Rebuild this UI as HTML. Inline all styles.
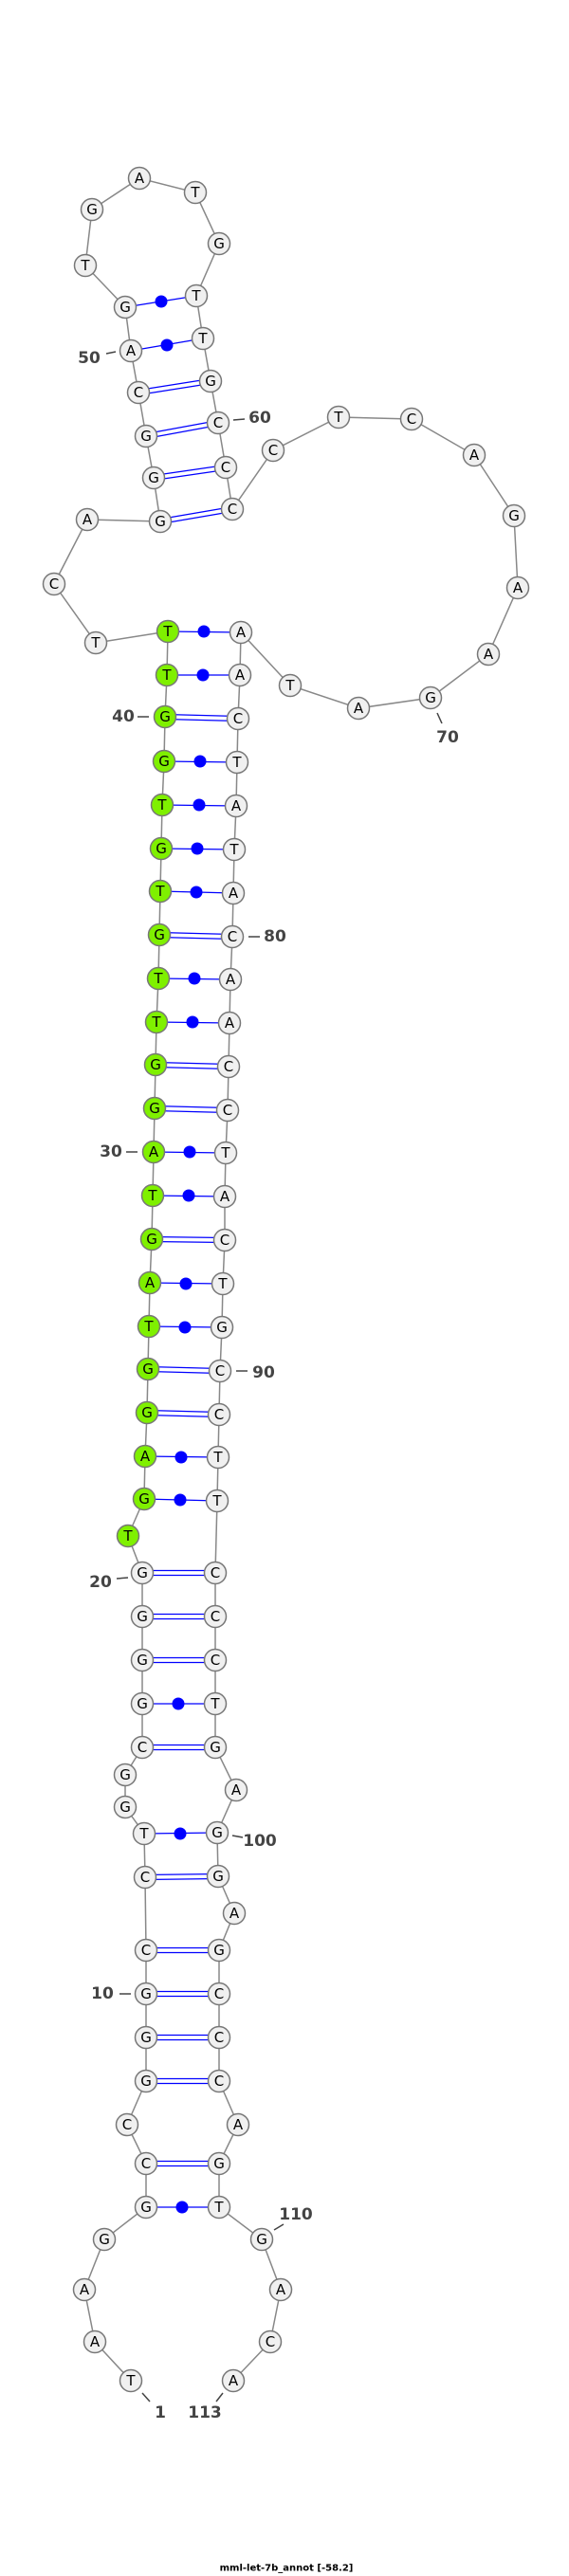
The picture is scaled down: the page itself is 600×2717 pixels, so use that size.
<!DOCTYPE html>
<html><head><meta charset="utf-8"><style>
html,body{margin:0;padding:0;background:#fff;}
svg{display:block;}
.n circle{fill:#f0f0f0;stroke:#777;stroke-width:1.5;}
.n circle.g{fill:#7ff000;}
.n text{font-family:"DejaVu Sans","Liberation Sans",sans-serif;font-size:15px;fill:#000;text-anchor:middle;dominant-baseline:central;}
.lb{font-family:"DejaVu Sans","Liberation Sans",sans-serif;font-size:17px;font-weight:bold;fill:#444;text-anchor:middle;dominant-baseline:central;}
.tk{stroke:#444;stroke-width:1.5;}
.p{stroke:#0000ff;stroke-width:1.3;fill:none;}
</style></head><body>
<svg width="600" height="2717" viewBox="0 0 600 2717" xmlns="http://www.w3.org/2000/svg">
<polyline fill="none" stroke="#888" stroke-width="1.5" points="138,2511 100,2470 89,2415 110,2362 154,2328 154,2282 134,2241 154,2195 154,2149 154,2103 154,2057 153,1980 152,1934 132,1906 132,1872 150,1843 150,1797 150,1751 150,1705 150,1659 135,1620 152,1581 153,1536 155,1490 156,1444 157,1399 158,1353 160,1307 161,1261 162,1215 163,1169 164,1123 165,1078 167,1032 168,986 169,940 170,895 171,849 173,803 174,756 176,712 177,666 101,678 57,616 92,548 169,550 162,504 154,460 146,414 138,370 132,324 90,280 97,221 147,188 206,203 231,257 207,312 214,357 222,402 230,446 238,493 245,537 288,475 357,440 434,442 500,480 542,544 546,620 515,690 454,736 378,747 306,723 254,667 253,712 251,758 250,804 249,850 247,896 246,942 245,988 243,1033 242,1079 241,1125 240,1171 238,1216 237,1262 237,1308 235,1354 234,1400 232,1446 231,1492 230,1537 229,1583 227,1659 227,1705 227,1751 227,1797 227,1843 249,1888 229,1933 230,1979 247,2018 231,2057 231,2103 231,2149 231,2195 251,2241 231,2282 231,2328 276,2362 296,2415 285,2470 246,2511"/>
<g class="p">
<!-- double pairs -->
<path d="M154,2279.5 L231,2279.5 M154,2284.5 L231,2284.5"/>
<path d="M154,2192.5 L231,2192.5 M154,2197.5 L231,2197.5"/>
<path d="M154,2146.5 L231,2146.5 M154,2151.5 L231,2151.5"/>
<path d="M154,2100.5 L231,2100.5 M154,2105.5 L231,2105.5"/>
<path d="M154,2054.5 L231,2054.5 M154,2059.5 L231,2059.5"/>
<path d="M153,1977.5 L230,1976.5 M153,1982.5 L230,1981.5"/>
<path d="M150,1840.5 L227,1840.5 M150,1845.5 L227,1845.5"/>
<path d="M150,1748.5 L227,1748.5 M150,1753.5 L227,1753.5"/>
<path d="M150,1702.5 L227,1702.5 M150,1707.5 L227,1707.5"/>
<path d="M150,1656.5 L227,1656.5 M150,1661.5 L227,1661.5"/>
<path d="M155,1487.5 L231,1489.5 M155,1492.5 L231,1494.5"/>
<path d="M156,1441.5 L232,1443.5 M156,1446.5 L232,1448.5"/>
<path d="M160,1304.5 L237,1305.5 M160,1309.5 L237,1310.5"/>
<path d="M163,1166.5 L240,1168.5 M163,1171.5 L240,1173.5"/>
<path d="M164,1120.5 L241,1122.5 M164,1125.5 L241,1127.5"/>
<path d="M168,983.5 L245,985.5 M168,988.5 L245,990.5"/>
<path d="M174,753.5 L251,755.5 M174,758.5 L251,760.5"/>
<path d="M169,547.5 L245,534.5 M169,552.5 L245,539.5"/>
<path d="M162,501.5 L238,490.5 M162,506.5 L238,495.5"/>
<path d="M154,457.5 L230,443.5 M154,462.5 L230,448.5"/>
<path d="M146,411.5 L222,399.5 M146,416.5 L222,404.5"/>
<!-- dot pairs -->
<path d="M154,2328 L231,2328 M152,1934 L229,1933 M150,1797 L227,1797 M152,1581 L229,1583 M153,1536 L230,1537 M157,1399 L234,1400 M158,1353 L235,1354 M161,1261 L237,1262 M162,1215 L238,1216 M165,1078 L242,1079 M167,1032 L243,1033 M169,940 L246,942 M170,895 L247,896 M171,849 L249,850 M173,803 L250,804 M176,712 L253,712 M177,666 L254,667 M138,370 L214,357 M132,324 L207,312"/>
</g>
<g fill="#0000ff">
<circle cx="192" cy="2328" r="6.5"/><circle cx="190" cy="1934" r="6.5"/><circle cx="188" cy="1797" r="6.5"/><circle cx="190" cy="1582" r="6.5"/><circle cx="191" cy="1537" r="6.5"/><circle cx="195" cy="1400" r="6.5"/><circle cx="196" cy="1354" r="6.5"/><circle cx="199" cy="1261" r="6.5"/><circle cx="200" cy="1215" r="6.5"/><circle cx="203" cy="1078" r="6.5"/><circle cx="205" cy="1032" r="6.5"/><circle cx="207" cy="941" r="6.5"/><circle cx="208" cy="895" r="6.5"/><circle cx="210" cy="849" r="6.5"/><circle cx="211" cy="803" r="6.5"/><circle cx="214" cy="712" r="6.5"/><circle cx="215" cy="666" r="6.5"/><circle cx="176" cy="364" r="6.5"/><circle cx="170" cy="318" r="6.5"/>
</g>
<g class="n">
<circle cx="138" cy="2511" r="11.5"/><text x="138" y="2511">T</text>
<circle cx="100" cy="2470" r="11.5"/><text x="100" y="2470">A</text>
<circle cx="89" cy="2415" r="11.5"/><text x="89" y="2415">A</text>
<circle cx="110" cy="2362" r="11.5"/><text x="110" y="2362">G</text>
<circle cx="154" cy="2328" r="11.5"/><text x="154" y="2328">G</text>
<circle cx="154" cy="2282" r="11.5"/><text x="154" y="2282">C</text>
<circle cx="134" cy="2241" r="11.5"/><text x="134" y="2241">C</text>
<circle cx="154" cy="2195" r="11.5"/><text x="154" y="2195">G</text>
<circle cx="154" cy="2149" r="11.5"/><text x="154" y="2149">G</text>
<circle cx="154" cy="2103" r="11.5"/><text x="154" y="2103">G</text>
<circle cx="154" cy="2057" r="11.5"/><text x="154" y="2057">C</text>
<circle cx="153" cy="1980" r="11.5"/><text x="153" y="1980">C</text>
<circle cx="152" cy="1934" r="11.5"/><text x="152" y="1934">T</text>
<circle cx="132" cy="1906" r="11.5"/><text x="132" y="1906">G</text>
<circle cx="132" cy="1872" r="11.5"/><text x="132" y="1872">G</text>
<circle cx="150" cy="1843" r="11.5"/><text x="150" y="1843">C</text>
<circle cx="150" cy="1797" r="11.5"/><text x="150" y="1797">G</text>
<circle cx="150" cy="1751" r="11.5"/><text x="150" y="1751">G</text>
<circle cx="150" cy="1705" r="11.5"/><text x="150" y="1705">G</text>
<circle cx="150" cy="1659" r="11.5"/><text x="150" y="1659">G</text>
<circle class="g" cx="135" cy="1620" r="11.5"/><text x="135" y="1620">T</text>
<circle class="g" cx="152" cy="1581" r="11.5"/><text x="152" y="1581">G</text>
<circle class="g" cx="153" cy="1536" r="11.5"/><text x="153" y="1536">A</text>
<circle class="g" cx="155" cy="1490" r="11.5"/><text x="155" y="1490">G</text>
<circle class="g" cx="156" cy="1444" r="11.5"/><text x="156" y="1444">G</text>
<circle class="g" cx="157" cy="1399" r="11.5"/><text x="157" y="1399">T</text>
<circle class="g" cx="158" cy="1353" r="11.5"/><text x="158" y="1353">A</text>
<circle class="g" cx="160" cy="1307" r="11.5"/><text x="160" y="1307">G</text>
<circle class="g" cx="161" cy="1261" r="11.5"/><text x="161" y="1261">T</text>
<circle class="g" cx="162" cy="1215" r="11.5"/><text x="162" y="1215">A</text>
<circle class="g" cx="163" cy="1169" r="11.5"/><text x="163" y="1169">G</text>
<circle class="g" cx="164" cy="1123" r="11.5"/><text x="164" y="1123">G</text>
<circle class="g" cx="165" cy="1078" r="11.5"/><text x="165" y="1078">T</text>
<circle class="g" cx="167" cy="1032" r="11.5"/><text x="167" y="1032">T</text>
<circle class="g" cx="168" cy="986" r="11.5"/><text x="168" y="986">G</text>
<circle class="g" cx="169" cy="940" r="11.5"/><text x="169" y="940">T</text>
<circle class="g" cx="170" cy="895" r="11.5"/><text x="170" y="895">G</text>
<circle class="g" cx="171" cy="849" r="11.5"/><text x="171" y="849">T</text>
<circle class="g" cx="173" cy="803" r="11.5"/><text x="173" y="803">G</text>
<circle class="g" cx="174" cy="756" r="11.5"/><text x="174" y="756">G</text>
<circle class="g" cx="176" cy="712" r="11.5"/><text x="176" y="712">T</text>
<circle class="g" cx="177" cy="666" r="11.5"/><text x="177" y="666">T</text>
<circle cx="101" cy="678" r="11.5"/><text x="101" y="678">T</text>
<circle cx="57" cy="616" r="11.5"/><text x="57" y="616">C</text>
<circle cx="92" cy="548" r="11.5"/><text x="92" y="548">A</text>
<circle cx="169" cy="550" r="11.5"/><text x="169" y="550">G</text>
<circle cx="162" cy="504" r="11.5"/><text x="162" y="504">G</text>
<circle cx="154" cy="460" r="11.5"/><text x="154" y="460">G</text>
<circle cx="146" cy="414" r="11.5"/><text x="146" y="414">C</text>
<circle cx="138" cy="370" r="11.5"/><text x="138" y="370">A</text>
<circle cx="132" cy="324" r="11.5"/><text x="132" y="324">G</text>
<circle cx="90" cy="280" r="11.5"/><text x="90" y="280">T</text>
<circle cx="97" cy="221" r="11.5"/><text x="97" y="221">G</text>
<circle cx="147" cy="188" r="11.5"/><text x="147" y="188">A</text>
<circle cx="206" cy="203" r="11.5"/><text x="206" y="203">T</text>
<circle cx="231" cy="257" r="11.5"/><text x="231" y="257">G</text>
<circle cx="207" cy="312" r="11.5"/><text x="207" y="312">T</text>
<circle cx="214" cy="357" r="11.5"/><text x="214" y="357">T</text>
<circle cx="222" cy="402" r="11.5"/><text x="222" y="402">G</text>
<circle cx="230" cy="446" r="11.5"/><text x="230" y="446">C</text>
<circle cx="238" cy="493" r="11.5"/><text x="238" y="493">C</text>
<circle cx="245" cy="537" r="11.5"/><text x="245" y="537">C</text>
<circle cx="288" cy="475" r="11.5"/><text x="288" y="475">C</text>
<circle cx="357" cy="440" r="11.5"/><text x="357" y="440">T</text>
<circle cx="434" cy="442" r="11.5"/><text x="434" y="442">C</text>
<circle cx="500" cy="480" r="11.5"/><text x="500" y="480">A</text>
<circle cx="542" cy="544" r="11.5"/><text x="542" y="544">G</text>
<circle cx="546" cy="620" r="11.5"/><text x="546" y="620">A</text>
<circle cx="515" cy="690" r="11.5"/><text x="515" y="690">A</text>
<circle cx="454" cy="736" r="11.5"/><text x="454" y="736">G</text>
<circle cx="378" cy="747" r="11.5"/><text x="378" y="747">A</text>
<circle cx="306" cy="723" r="11.5"/><text x="306" y="723">T</text>
<circle cx="254" cy="667" r="11.5"/><text x="254" y="667">A</text>
<circle cx="253" cy="712" r="11.5"/><text x="253" y="712">A</text>
<circle cx="251" cy="758" r="11.5"/><text x="251" y="758">C</text>
<circle cx="250" cy="804" r="11.5"/><text x="250" y="804">T</text>
<circle cx="249" cy="850" r="11.5"/><text x="249" y="850">A</text>
<circle cx="247" cy="896" r="11.5"/><text x="247" y="896">T</text>
<circle cx="246" cy="942" r="11.5"/><text x="246" y="942">A</text>
<circle cx="245" cy="988" r="11.5"/><text x="245" y="988">C</text>
<circle cx="243" cy="1033" r="11.5"/><text x="243" y="1033">A</text>
<circle cx="242" cy="1079" r="11.5"/><text x="242" y="1079">A</text>
<circle cx="241" cy="1125" r="11.5"/><text x="241" y="1125">C</text>
<circle cx="240" cy="1171" r="11.5"/><text x="240" y="1171">C</text>
<circle cx="238" cy="1216" r="11.5"/><text x="238" y="1216">T</text>
<circle cx="237" cy="1262" r="11.5"/><text x="237" y="1262">A</text>
<circle cx="237" cy="1308" r="11.5"/><text x="237" y="1308">C</text>
<circle cx="235" cy="1354" r="11.5"/><text x="235" y="1354">T</text>
<circle cx="234" cy="1400" r="11.5"/><text x="234" y="1400">G</text>
<circle cx="232" cy="1446" r="11.5"/><text x="232" y="1446">C</text>
<circle cx="231" cy="1492" r="11.5"/><text x="231" y="1492">C</text>
<circle cx="230" cy="1537" r="11.5"/><text x="230" y="1537">T</text>
<circle cx="229" cy="1583" r="11.5"/><text x="229" y="1583">T</text>
<circle cx="227" cy="1659" r="11.5"/><text x="227" y="1659">C</text>
<circle cx="227" cy="1705" r="11.5"/><text x="227" y="1705">C</text>
<circle cx="227" cy="1751" r="11.5"/><text x="227" y="1751">C</text>
<circle cx="227" cy="1797" r="11.5"/><text x="227" y="1797">T</text>
<circle cx="227" cy="1843" r="11.5"/><text x="227" y="1843">G</text>
<circle cx="249" cy="1888" r="11.5"/><text x="249" y="1888">A</text>
<circle cx="229" cy="1933" r="11.5"/><text x="229" y="1933">G</text>
<circle cx="230" cy="1979" r="11.5"/><text x="230" y="1979">G</text>
<circle cx="247" cy="2018" r="11.5"/><text x="247" y="2018">A</text>
<circle cx="231" cy="2057" r="11.5"/><text x="231" y="2057">G</text>
<circle cx="231" cy="2103" r="11.5"/><text x="231" y="2103">C</text>
<circle cx="231" cy="2149" r="11.5"/><text x="231" y="2149">C</text>
<circle cx="231" cy="2195" r="11.5"/><text x="231" y="2195">C</text>
<circle cx="251" cy="2241" r="11.5"/><text x="251" y="2241">A</text>
<circle cx="231" cy="2282" r="11.5"/><text x="231" y="2282">G</text>
<circle cx="231" cy="2328" r="11.5"/><text x="231" y="2328">T</text>
<circle cx="276" cy="2362" r="11.5"/><text x="276" y="2362">G</text>
<circle cx="296" cy="2415" r="11.5"/><text x="296" y="2415">A</text>
<circle cx="285" cy="2470" r="11.5"/><text x="285" y="2470">C</text>
<circle cx="246" cy="2511" r="11.5"/><text x="246" y="2511">A</text>
</g>
<g class="tk">
<line x1="112" y1="373" x2="122" y2="371"/>
<line x1="246" y1="443" x2="258" y2="442"/>
<line x1="145" y1="756" x2="157" y2="756"/>
<line x1="262" y1="988" x2="274" y2="988"/>
<line x1="461" y1="752" x2="466" y2="763"/>
<line x1="133" y1="1215" x2="145" y2="1215"/>
<line x1="249" y1="1446" x2="261" y2="1446"/>
<line x1="123" y1="1665" x2="135" y2="1664"/>
<line x1="245" y1="1936" x2="256" y2="1938"/>
<line x1="126" y1="2103" x2="138" y2="2103"/>
<line x1="289" y1="2352" x2="299" y2="2346"/>
<line x1="150" y1="2524" x2="158" y2="2533"/>
<line x1="235" y1="2524" x2="228" y2="2533"/>
</g>
<g class="lb">
<text x="94" y="378">50</text>
<text x="274" y="441">60</text>
<text x="130" y="756">40</text>
<text x="290" y="988">80</text>
<text x="472" y="778">70</text>
<text x="117" y="1215">30</text>
<text x="278" y="1448">90</text>
<text x="106" y="1669">20</text>
<text x="274" y="1942">100</text>
<text x="108" y="2103">10</text>
<text x="312" y="2336">110</text>
<text x="169" y="2545">1</text>
<text x="216" y="2545">113</text>
</g>
<text x="302" y="2709" font-family="DejaVu Sans, Liberation Sans, sans-serif" font-size="10" font-weight="bold" fill="#000" text-anchor="middle" dominant-baseline="central">mml-let-7b_annot [-58.2]</text>
</svg>
</body></html>
